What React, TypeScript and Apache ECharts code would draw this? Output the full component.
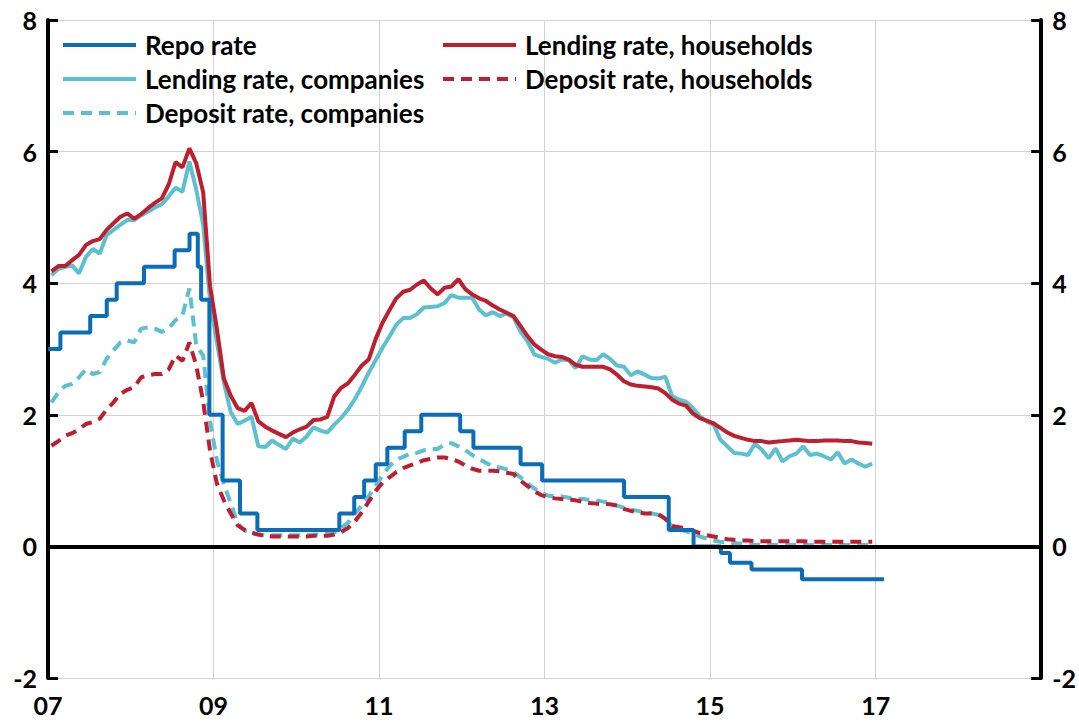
import React, { useEffect, useRef } from "react";
import * as echarts from "echarts";

// Monthly data, Jan 2007 – Dec 2016 (per cent)
const lendHouseholds = [
  4.18, 4.26, 4.26, 4.35, 4.43, 4.58, 4.64, 4.67, 4.81, 4.91,
  5.01, 5.06, 4.98, 5.05, 5.14, 5.22, 5.29, 5.5, 5.84, 5.76,
  6.05, 5.82, 5.38, 3.95, 3.3, 2.55, 2.29, 2.1, 2.06, 2.18,
  1.9, 1.82, 1.76, 1.71, 1.66, 1.73, 1.78, 1.82, 1.92, 1.93,
  1.97, 2.28, 2.41, 2.48, 2.61, 2.75, 2.84, 3.15, 3.4, 3.59,
  3.77, 3.87, 3.9, 3.98, 4.04, 3.92, 3.83, 3.93, 3.95, 4.06,
  3.91, 3.83, 3.77, 3.73, 3.66, 3.6, 3.55, 3.5, 3.35, 3.2,
  3.07, 2.99, 2.92, 2.89, 2.88, 2.84, 2.76, 2.73, 2.73, 2.73,
  2.73, 2.69, 2.61, 2.51, 2.46, 2.44, 2.43, 2.42, 2.4, 2.33,
  2.23, 2.17, 2.14, 2.02, 1.95, 1.91, 1.87, 1.8, 1.73, 1.68,
  1.65, 1.62, 1.6, 1.6, 1.58, 1.59, 1.6, 1.61, 1.62, 1.61,
  1.6, 1.6, 1.61, 1.61, 1.61, 1.6, 1.6, 1.58, 1.57, 1.56,
];

const lendCompanies = [
  4.12, 4.22, 4.25, 4.27, 4.15, 4.4, 4.52, 4.45, 4.73, 4.81,
  4.89, 4.96, 4.96, 5.03, 5.09, 5.15, 5.2, 5.32, 5.45, 5.39,
  5.85, 5.42, 4.89, 3.72, 3.1, 2.49, 2.04, 1.86, 1.91, 1.97,
  1.52, 1.51, 1.61, 1.54, 1.48, 1.64, 1.58, 1.67, 1.81, 1.76,
  1.73, 1.85, 1.95, 2.08, 2.24, 2.43, 2.64, 2.83, 3.02, 3.19,
  3.37, 3.47, 3.47, 3.53, 3.63, 3.64, 3.65, 3.7, 3.82, 3.78,
  3.78, 3.78, 3.6, 3.51, 3.56, 3.5, 3.54, 3.48, 3.27, 3.12,
  2.92, 2.88, 2.85, 2.79, 2.84, 2.83, 2.71, 2.89, 2.84, 2.83,
  2.92, 2.85, 2.75, 2.73, 2.6, 2.66, 2.61, 2.56, 2.55, 2.58,
  2.28, 2.23, 2.2, 2.1, 1.98, 1.9, 1.85, 1.62, 1.52, 1.42,
  1.41, 1.39, 1.56, 1.47, 1.34, 1.49, 1.29, 1.37, 1.41, 1.52,
  1.39, 1.41, 1.37, 1.32, 1.43, 1.26, 1.32, 1.26, 1.21, 1.26,
];

const depHouseholds = [
  1.53, 1.6, 1.68, 1.72, 1.78, 1.86, 1.89, 1.94, 2.08, 2.19,
  2.32, 2.38, 2.42, 2.57, 2.6, 2.62, 2.62, 2.69, 2.9, 2.82,
  3.1, 2.75, 2.2, 1.45, 0.95, 0.7, 0.5, 0.32, 0.25, 0.21,
  0.18, 0.16, 0.15, 0.15, 0.15, 0.15, 0.15, 0.15, 0.16, 0.16,
  0.16, 0.18, 0.22, 0.28, 0.38, 0.52, 0.68, 0.84, 0.97, 1.05,
  1.13, 1.19, 1.23, 1.27, 1.31, 1.33, 1.35, 1.35, 1.33, 1.29,
  1.23, 1.18, 1.15, 1.15, 1.15, 1.14, 1.12, 1.1, 1.0, 0.92,
  0.84, 0.78, 0.75, 0.73, 0.72, 0.71, 0.7, 0.68, 0.66, 0.65,
  0.65, 0.64, 0.62, 0.57, 0.54, 0.52, 0.5, 0.5, 0.49, 0.42,
  0.31, 0.29, 0.27, 0.24, 0.2, 0.17, 0.15, 0.13, 0.11, 0.1,
  0.09, 0.09, 0.08, 0.08, 0.08, 0.08, 0.08, 0.08, 0.08, 0.08,
  0.07, 0.07, 0.07, 0.07, 0.07, 0.07, 0.07, 0.07, 0.07, 0.07,
];

const depCompanies = [
  2.19, 2.34, 2.44, 2.47, 2.57, 2.69, 2.62, 2.65, 2.85, 2.98,
  3.1, 3.13, 3.1, 3.31, 3.33, 3.31, 3.26, 3.31, 3.44, 3.51,
  3.92, 3.05, 2.9, 1.9, 1.3, 0.95, 0.65, 0.35, 0.24, 0.2,
  0.18, 0.17, 0.17, 0.17, 0.17, 0.17, 0.17, 0.17, 0.18, 0.18,
  0.19, 0.21, 0.28, 0.36, 0.5, 0.62, 0.76, 0.92, 1.08, 1.22,
  1.32, 1.36, 1.41, 1.42, 1.46, 1.48, 1.48, 1.55, 1.57, 1.52,
  1.46, 1.39, 1.33, 1.27, 1.22, 1.2, 1.17, 1.13, 1.05, 0.96,
  0.88, 0.82, 0.77, 0.76, 0.76, 0.74, 0.72, 0.72, 0.71, 0.7,
  0.68, 0.66, 0.62, 0.59, 0.56, 0.54, 0.52, 0.5, 0.48, 0.43,
  0.3, 0.26, 0.23, 0.2, 0.15, 0.12, 0.09, 0.07, 0.06, 0.05,
  0.04, 0.03, 0.02, 0.02, 0.02, 0.02, 0.02, 0.02, 0.02, 0.02,
  0.02, 0.02, 0.02, 0.02, 0.02, 0.02, 0.02, 0.02, 0.02, 0.02,
];

// Repo rate: decision dates (decimal years) and new level
const repoDates = [
  2007.0, 2007.15, 2007.51, 2007.71, 2007.83, 2008.16, 2008.53, 2008.71,
  2008.81, 2008.85, 2008.95, 2009.11, 2009.32, 2009.53, 2010.52, 2010.7,
  2010.82, 2010.96, 2011.1, 2011.31, 2011.51, 2011.98, 2012.14, 2012.71,
  2012.97, 2013.96, 2014.5, 2014.8, 2015.13, 2015.24, 2015.5, 2016.11, 2017.1,
];
const repoRates = [
  3.0, 3.25, 3.5, 3.75, 4.0, 4.25, 4.5, 4.75,
  4.25, 3.75, 2.0, 1.0, 0.5, 0.25, 0.5, 0.75,
  1.0, 1.25, 1.5, 1.75, 2.0, 1.75, 1.5, 1.25,
  1.0, 0.75, 0.25, 0.0, -0.1, -0.25, -0.35, -0.5, -0.5,
];

const seriesNames = [
  "Repo rate",
  "Lending rate, households",
  "Lending rate, companies",
  "Deposit rate, households",
  "Deposit rate, companies",
];

const yTicks = { min: -2, max: 8, interval: 2 };
const xTicks = { min: 2007, max: 2019, interval: 2 };

const COLORS = {
  repo: "#0B6DB7",
  light: "#5BC0CF",
  red: "#BF1E2E",
};

const FONT = "Lato, 'Open Sans', sans-serif";

export default function App() {
  const ref = useRef<HTMLDivElement>(null);

  useEffect(() => {
    if (!ref.current) return;
    const chart = echarts.init(ref.current, undefined, { renderer: "svg" });

    const monthX = lendHouseholds.map((_, i) => 2007 + (i + 0.5) / 12);
    const pair = (vals: number[]) => vals.map((v, i) => [monthX[i], v]);
    const repoData = repoDates.map((d, i) => [d, repoRates[i]]);

    const axisFont = {
      fontFamily: FONT,
      fontWeight: "bold" as const,
      fontSize: 25,
      color: "#000",
    };
    const legendFont = {
      fontFamily: FONT,
      fontWeight: "bold" as const,
      fontSize: 26,
      lineHeight: 26,
      color: "#000",
      padding: [0, 0, 0, 4],
    };

    const dash = [11, 7];

    const legendBase = {
      top: 27,
      orient: "vertical",
      itemWidth: 73,
      itemHeight: 12,
      itemGap: 8,
      textStyle: legendFont,
      itemStyle: { opacity: 0 },
      lineStyle: { width: 4 },
    };

    const option: any = {
      animation: false,
      backgroundColor: "#fff",
      grid: { left: 48, right: 35, top: 20, bottom: 46, containLabel: false },
      legend: [
        {
          ...legendBase,
          left: 56,
          data: [seriesNames[0], seriesNames[2], seriesNames[4]],
        },
        {
          ...legendBase,
          left: 436,
          data: [seriesNames[1], seriesNames[3]],
        },
      ],
      xAxis: {
        type: "value",
        min: xTicks.min,
        max: xTicks.max,
        interval: xTicks.interval,
        axisLine: { show: false },
        axisTick: { show: false },
        splitLine: { show: true, lineStyle: { color: "#d2d2d2", width: 1 } },
        axisLabel: {
          ...axisFont,
          margin: 14,
          formatter: (v: number) =>
            v >= xTicks.max ? "" : String(Math.round(v)).slice(2),
        },
      },
      yAxis: [
        {
          type: "value",
          position: "left",
          min: yTicks.min,
          max: yTicks.max,
          interval: yTicks.interval,
          axisLine: { show: true, lineStyle: { color: "#000", width: 4 } },
          axisTick: {
            show: true,
            inside: true,
            length: 10,
            lineStyle: { color: "#000", width: 3 },
          },
          splitLine: { show: true, lineStyle: { color: "#d2d2d2", width: 1 } },
          axisLabel: { ...axisFont, margin: 11 },
        },
        {
          type: "value",
          position: "right",
          min: yTicks.min,
          max: yTicks.max,
          interval: yTicks.interval,
          axisLine: { show: true, lineStyle: { color: "#000", width: 4 } },
          axisTick: {
            show: true,
            inside: true,
            length: 10,
            lineStyle: { color: "#000", width: 3 },
          },
          splitLine: { show: false },
          axisLabel: { ...axisFont, margin: 11 },
        },
      ],
      series: [
        {
          name: "zero",
          type: "line",
          data: [],
          z: 1,
          silent: true,
          markLine: {
            silent: true,
            symbol: ["none", "none"],
            label: { show: false },
            lineStyle: { color: "#000", width: 4, type: "solid" },
            data: [{ yAxis: 0 }],
          },
        },
        {
          name: seriesNames[4],
          type: "line",
          data: pair(depCompanies),
          symbol: "none",
          z: 3,
          color: COLORS.light,
          lineStyle: { color: COLORS.light, width: 4, type: dash },
        },
        {
          name: seriesNames[3],
          type: "line",
          data: pair(depHouseholds),
          symbol: "none",
          z: 3,
          color: COLORS.red,
          lineStyle: { color: COLORS.red, width: 4, type: dash },
        },
        {
          name: seriesNames[2],
          type: "line",
          data: pair(lendCompanies),
          symbol: "none",
          z: 3,
          color: COLORS.light,
          lineStyle: { color: COLORS.light, width: 4 },
        },
        {
          name: seriesNames[1],
          type: "line",
          data: pair(lendHouseholds),
          symbol: "none",
          z: 3,
          color: COLORS.red,
          lineStyle: { color: COLORS.red, width: 4 },
        },
        {
          name: seriesNames[0],
          type: "line",
          data: repoData,
          step: "end",
          symbol: "none",
          z: 4,
          color: COLORS.repo,
          lineStyle: { color: COLORS.repo, width: 4 },
        },
      ],
    };

    chart.setOption(option);
    return () => chart.dispose();
  }, []);

  return (
    <div
      ref={ref}
      style={{
        position: "fixed",
        left: 0,
        top: 0,
        width: 1079,
        height: 724,
        background: "#fff",
      }}
    />
  );
}
